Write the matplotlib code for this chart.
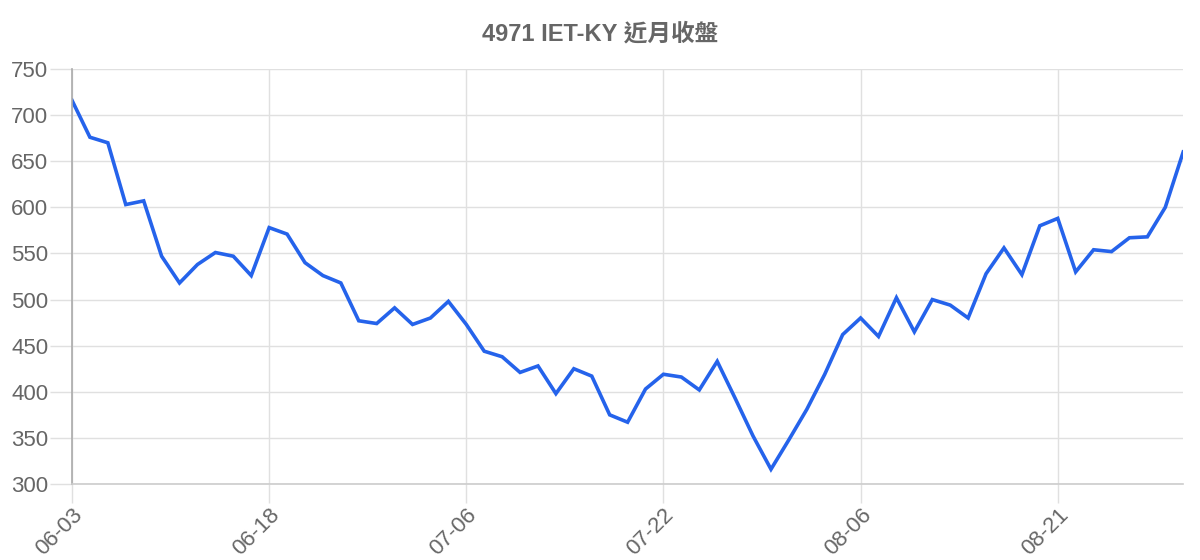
import numpy as np
import matplotlib
matplotlib.use("Agg")
from matplotlib import pyplot as plt

plt.rcParams["font.family"] = ["Liberation Sans", "Noto Sans CJK TC", "DejaVu Sans"]

# Closing prices
closes = [
    716, 676, 670, 603, 607, 547, 518, 538, 551, 547,
    526, 578, 571, 540, 526, 518, 477, 474, 491, 473,
    480, 498, 473, 444, 438, 421, 428, 398, 425, 417,
    375, 367, 403, 419, 416, 402, 433, 393, 352, 316,
    348, 381, 419, 462, 480, 460, 502, 465, 500, 494,
    480, 528, 556, 527, 580, 588, 530, 554, 552, 567,
    568, 600, 660,
]
tick_labels = ["06-03", "06-18", "07-06", "07-22", "08-06", "08-21"]
title = "4971 IET-KY 近月收盤"

x = np.arange(len(closes))
tick_pos = x[::11][: len(tick_labels)]

fig = plt.figure(figsize=(12, 5.6), dpi=100)
ax = fig.add_axes([0.06, 0.1357, 0.926, 0.7411])

ax.plot(x, closes, color="#2563eb", linewidth=2.6, solid_joinstyle="miter")

ax.set_xlim(0, len(closes) - 1)
ax.set_ylim(300, 750)
ax.set_yticks(np.arange(300, 751, 50))
ax.set_xticks(tick_pos)
ax.set_xticklabels(tick_labels, rotation=45, ha="right", va="top",
                   rotation_mode="anchor")

ax.grid(True, color="#e0e0e0", linewidth=1)
ax.set_axisbelow(True)
ax.tick_params(axis="y", length=16, width=1, color="#e0e0e0",
               labelcolor="#666666", labelsize=16, pad=1)
ax.tick_params(axis="x", length=14, width=1, color="#e0e0e0",
               labelcolor="#666666", labelsize=16, pad=1)

for side in ["top", "right"]:
    ax.spines[side].set_visible(False)
ax.spines["left"].set_color("#aaaaaa")
ax.spines["left"].set_linewidth(1.2)
ax.spines["bottom"].set_color("#cccccc")
ax.spines["bottom"].set_linewidth(1.2)

fig.text(0.5, 1 - 34 / 560, title, ha="center", va="center", fontsize=17,
         fontweight="bold", color="#666666")

fig.savefig("out.png", dpi=100)
